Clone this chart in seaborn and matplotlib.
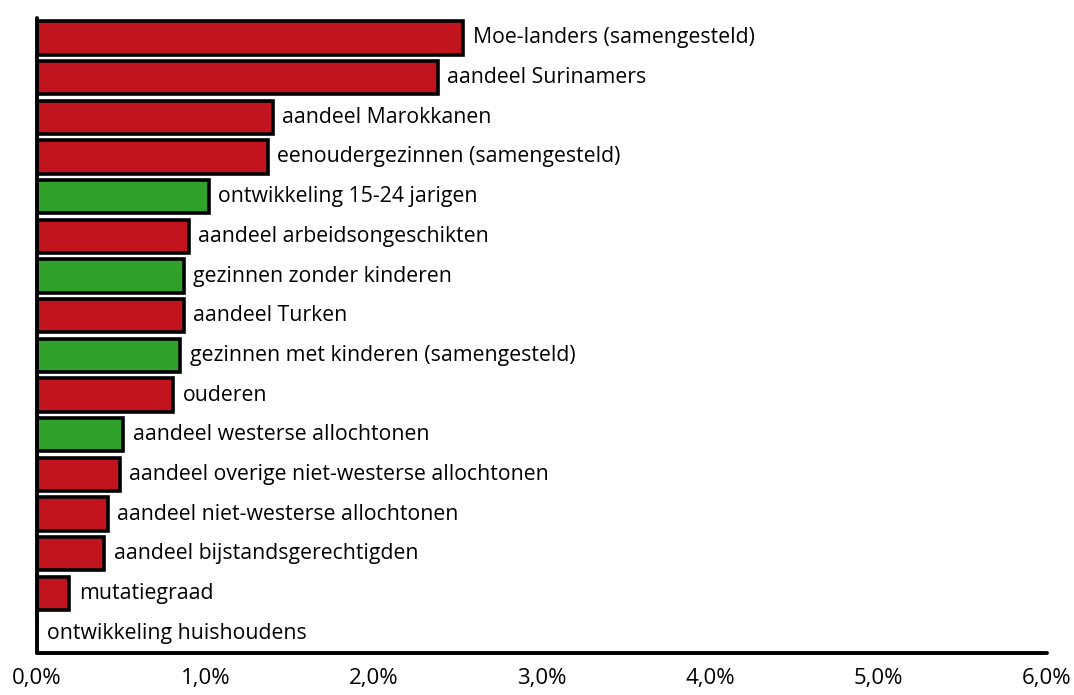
import matplotlib
matplotlib.use("Agg")
import matplotlib.pyplot as plt
import numpy as np
import pandas as pd
import seaborn as sns

# Indicator names (top to bottom), their contribution and direction
labels = [
    "Moe-landers (samengesteld)",
    "aandeel Surinamers",
    "aandeel Marokkanen",
    "eenoudergezinnen (samengesteld)",
    "ontwikkeling 15-24 jarigen",
    "aandeel arbeidsongeschikten",
    "gezinnen zonder kinderen",
    "aandeel Turken",
    "gezinnen met kinderen (samengesteld)",
    "ouderen",
    "aandeel westerse allochtonen",
    "aandeel overige niet-westerse allochtonen",
    "aandeel niet-westerse allochtonen",
    "aandeel bijstandsgerechtigden",
    "mutatiegraad",
    "ontwikkeling huishoudens",
]
values = [2.53, 2.38, 1.40, 1.37, 1.02, 0.90, 0.87, 0.87, 0.85, 0.81,
          0.51, 0.49, 0.42, 0.40, 0.19, 0.0]
effect = ["neg", "neg", "neg", "neg", "pos", "neg", "pos", "neg", "pos", "neg",
          "pos", "neg", "neg", "neg", "neg", "neg"]
x_ticks = [0, 1, 2, 3, 4, 5, 6]
x_tick_labels = ["0,0%", "1,0%", "2,0%", "3,0%", "4,0%", "5,0%", "6,0%"]

palette = {"neg": "#C1141E", "pos": "#30A12A"}

df = pd.DataFrame({"label": labels, "value": values, "effect": effect})

sns.set_style("white")
plt.rcParams["font.family"] = ["Open Sans", "DejaVu Sans"]

fig = plt.figure(figsize=(10.74, 6.95), dpi=100)
ax = fig.add_axes([0.0345, 0.0604, 0.9404, 0.9136])

sns.barplot(data=df, x="value", y="label", hue="effect", palette=palette,
            order=labels, dodge=False, width=0.84, saturation=1,
            edgecolor="black", linewidth=2.6, legend=False, ax=ax)

n = len(labels)
ax.set_xlim(0, 6)
ax.set_ylim(n - 0.5, -0.5)

# indicator name right of each bar
for i, (lab, v) in enumerate(zip(labels, values)):
    ax.annotate(lab, xy=(v, i), xytext=(7, 0), textcoords="offset points",
                va="center", ha="left", fontsize=15.3, color="black")

ax.set_xticks(x_ticks)
ax.set_xticklabels(x_tick_labels, fontsize=16)
ax.set_yticks(np.arange(-0.5, n, 1.0))
ax.set_yticklabels([])
ax.set_xlabel("")
ax.set_ylabel("")

for side in ["top", "right"]:
    ax.spines[side].set_visible(False)
for side in ["left", "bottom"]:
    ax.spines[side].set_linewidth(2.8)
    ax.spines[side].set_color("black")
    ax.spines[side].set_capstyle("round")

ax.tick_params(axis="x", direction="out", length=5, width=2.6, pad=6,
               colors="black")
ax.tick_params(axis="y", direction="out", length=4, width=2.6,
               colors="black")

fig.savefig("out.png", dpi=100)
